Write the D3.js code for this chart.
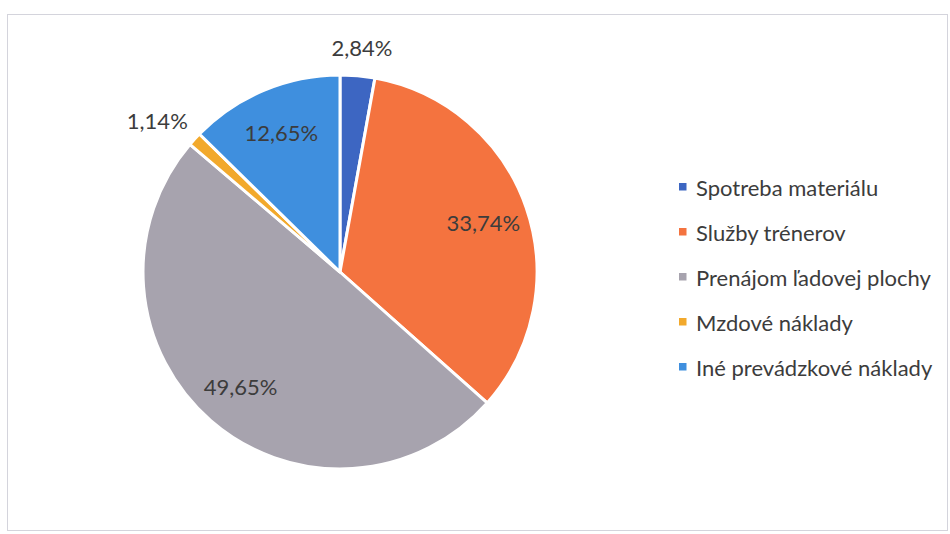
<!DOCTYPE html>
<html>
<head>
<meta charset="utf-8">
<script src="https://cdn.jsdelivr.net/npm/d3@7"></script>
<style>
  body { margin: 0; background: #fff; }
  text { font-family: Lato, "Open Sans", sans-serif; }
</style>
</head>
<body>
<div id="chart"></div>
<script>
// data
const categories = ["Spotreba materiálu", "Služby trénerov", "Prenájom ľadovej plochy", "Mzdové náklady", "Iné prevádzkové náklady"];
const shares = [2.84, 33.74, 49.65, 1.14, 12.65];
const colors = ["#3d66c2", "#f4733f", "#a7a3ae", "#f2a92c", "#3f8fde"];

document.addEventListener("DOMContentLoaded", function () {

    const width = 950;
    const height = 534;

    const svg = d3.select("#chart")
        .append("svg")
        .attr("width", width)
        .attr("height", height);

    // chart frame
    svg.append("rect")
        .attr("x", 7.5).attr("y", 14.5)
        .attr("width", 940).attr("height", 516)
        .attr("fill", "#fff")
        .attr("stroke", "#d4d4dc")
        .attr("stroke-width", 1);

    const cx = 340, cy = 272, radius = 197;

    const data = categories.map((c, i) => ({ name: c, value: shares[i], color: colors[i] }));

    const pie = d3.pie().sort(null).value(d => d.value);
    const arcs = pie(data);

    const arc = d3.arc().innerRadius(0).outerRadius(radius);

    const g = svg.append("g").attr("transform", `translate(${cx},${cy})`);

    g.selectAll("path")
        .data(arcs)
        .enter().append("path")
        .attr("d", arc)
        .attr("fill", d => d.data.color)
        .attr("stroke", "#fff")
        .attr("stroke-width", 3)
        .attr("stroke-linejoin", "round");

    const fmt = v => v.toFixed(2).replace(".", ",") + "%";
    const fontSize = 22;

    // labels: inside for bigger slices, outside for the small ones
    const labels = g.selectAll("text.lbl")
        .data(arcs)
        .enter().append("text")
        .attr("class", "lbl")
        .attr("text-anchor", "middle")
        .attr("dominant-baseline", "central")
        .attr("font-size", fontSize)
        .attr("fill", "#3c3c3c")
        .text(d => fmt(d.data.value));

    labels.each(function (d) {
        const mid = (d.startAngle + d.endAngle) / 2;
        const sx = Math.sin(mid), sy = -Math.cos(mid);
        let x, y;
        if (d.data.value > 5) {
            const r = radius * 0.77;
            x = sx * r; y = sy * r;
        } else {
            const bb = this.getBBox();
            const r = radius + 20;
            x = sx * r + sx * bb.width / 2;
            y = sy * r + sy * bb.height / 2 * 0.6;
        }
        d3.select(this).attr("x", x).attr("y", y);
    });

    // legend
    const legend = svg.append("g").attr("transform", "translate(679,187)");
    const rowH = 45;

    const items = legend.selectAll("g")
        .data(data)
        .enter().append("g")
        .attr("transform", (d, i) => `translate(0,${i * rowH})`);

    items.append("rect")
        .attr("x", 0).attr("y", -4)
        .attr("width", 7.5).attr("height", 7.5)
        .attr("fill", d => d.color);

    items.append("text")
        .attr("x", 17)
        .attr("y", 0)
        .attr("dominant-baseline", "central")
        .attr("font-size", 22)
        .attr("fill", "#3c3c3c")
        .text(d => d.name);
});
</script>
</body>
</html>
